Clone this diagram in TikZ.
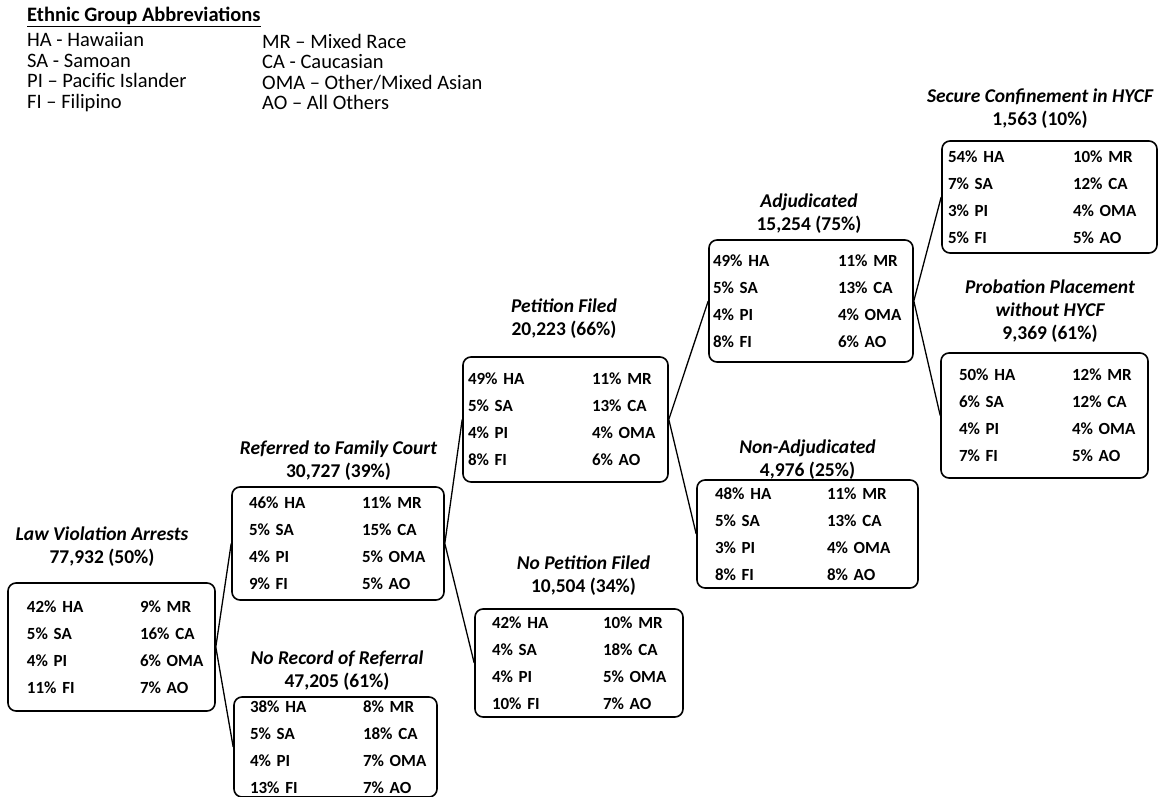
\documentclass[tikz,border=0pt]{standalone}
\usepackage{fontspec}
\setmainfont{Carlito}

\newcommand{\rows}[9]{\makebox[#1][l]{#2}\mbox{#3}\\\makebox[#1][l]{#4}\mbox{#5}\\\makebox[#1][l]{#6}\mbox{#7}\\\makebox[#1][l]{#8}\mbox{#9}}

\tikzset{
  key/.style={align=left, inner sep=0pt, font=\fontsize{20.5}{20.5}\selectfont},
  grp/.style={draw, line width=1.6pt, rounded corners=8pt, align=left, inner ysep=1pt,
    font=\fontsize{17}{27}\selectfont\bfseries},
  ttl/.style={align=center, inner sep=0pt, font=\fontsize{19.5}{23}\selectfont\bfseries},
}

\begin{document}
\begin{tikzpicture}[x=1pt,y=-1pt]
  \useasboundingbox (0,0) rectangle (1159,797);
  \node[key, anchor=base west] (k) at (27,22) {\bfseries\underline{Ethnic Group Abbreviations}};
  \node[key, anchor=west] (k0) at (27,72) {HA - Hawaiian\\SA - Samoan\\PI -- Pacific Islander\\FI -- Filipino};
  \node[key, anchor=west] (k1) at (262,72) {MR -- Mixed Race\\CA - Caucasian\\OMA -- Other/Mixed Asian\\AO -- All Others};
  \draw
    (111.5,647) node[grp, text width=169pt, inner xsep=19pt, minimum height=128pt] (0)
      {\rows{113pt}{42\% HA}{9\% MR}{5\% SA}{16\% CA}{4\% PI}{6\% OMA}{11\% FI}{7\% AO}}
    (338,543.5) node[grp, text width=178pt, inner xsep=17pt, minimum height=113pt] (1)
      {\rows{113pt}{46\% HA}{11\% MR}{5\% SA}{15\% CA}{4\% PI}{5\% OMA}{9\% FI}{5\% AO}}
    (335.5,747) node[grp, text width=171pt, inner xsep=16pt, minimum height=100pt] (2)
      {\rows{113pt}{38\% HA}{8\% MR}{5\% SA}{18\% CA}{4\% PI}{7\% OMA}{13\% FI}{7\% AO}}
    (565.5,419.5) node[grp, text width=195pt, inner xsep=5pt, minimum height=125pt] (3)
      {\rows{124pt}{49\% HA}{11\% MR}{5\% SA}{13\% CA}{4\% PI}{4\% OMA}{8\% FI}{6\% AO}}
    (579,663) node[grp, text width=174pt, inner xsep=17pt, minimum height=108pt] (4)
      {\rows{111pt}{42\% HA}{10\% MR}{4\% SA}{18\% CA}{4\% PI}{5\% OMA}{10\% FI}{7\% AO}}
    (811,301) node[grp, text width=196pt, inner xsep=4pt, minimum height=122pt] (5)
      {\rows{125pt}{49\% HA}{11\% MR}{5\% SA}{13\% CA}{4\% PI}{4\% OMA}{8\% FI}{6\% AO}}
    (807.5,534) node[grp, text width=185pt, inner xsep=18pt, minimum height=108pt] (6)
      {\rows{112pt}{48\% HA}{11\% MR}{5\% SA}{13\% CA}{3\% PI}{4\% OMA}{8\% FI}{8\% AO}}
    (1049.5,197) node[grp, text width=203pt, inner xsep=6pt, minimum height=112pt] (7)
      {\rows{125pt}{54\% HA}{10\% MR}{7\% SA}{12\% CA}{3\% PI}{4\% OMA}{5\% FI}{5\% AO}}
    (1044.5,415.5) node[grp, text width=171pt, inner xsep=18pt, minimum height=125pt] (8)
      {\rows{113pt}{50\% HA}{12\% MR}{6\% SA}{12\% CA}{4\% PI}{4\% OMA}{7\% FI}{5\% AO}};
  \draw
    (102,546.5) node[ttl] (l0) {{\itshape Law Violation Arrests}\\77,932 (50\%)}
    (338.5,461) node[ttl] (l1) {{\itshape Referred to Family Court}\\30,727 (39\%)}
    (337,671) node[ttl] (l2) {{\itshape No Record of Referral}\\47,205 (61\%)}
    (564,319) node[ttl] (l3) {{\itshape Petition Filed}\\20,223 (66\%)}
    (583.5,575.5) node[ttl] (l4) {{\itshape No Petition Filed}\\10,504 (34\%)}
    (809,214) node[ttl] (l5) {{\itshape Adjudicated}\\15,254 (75\%)}
    (807.5,459.5) node[ttl] (l6) {{\itshape Non-Adjudicated}\\4,976 (25\%)}
    (1040,108.5) node[ttl] (l7) {{\itshape Secure Confinement in HYCF}\\1,563 (10\%)}
    (1050,311) node[ttl] (l8) {{\itshape Probation Placement}\\{\itshape without HYCF}\\9,369 (61\%)};
  \begin{scope}[-,line width=1.3pt]
    \draw (0.east) -- (1.west);
    \draw (0.east) -- (2.west);
    \draw (1.east) -- (3.west);
    \draw (1.east) -- (4.west);
    \draw (3.east) -- (5.west);
    \draw (3.east) -- (6.west);
    \draw (5.east) -- (7.west);
    \draw (5.east) -- (8.west);
  \end{scope}
\end{tikzpicture}
\end{document}
